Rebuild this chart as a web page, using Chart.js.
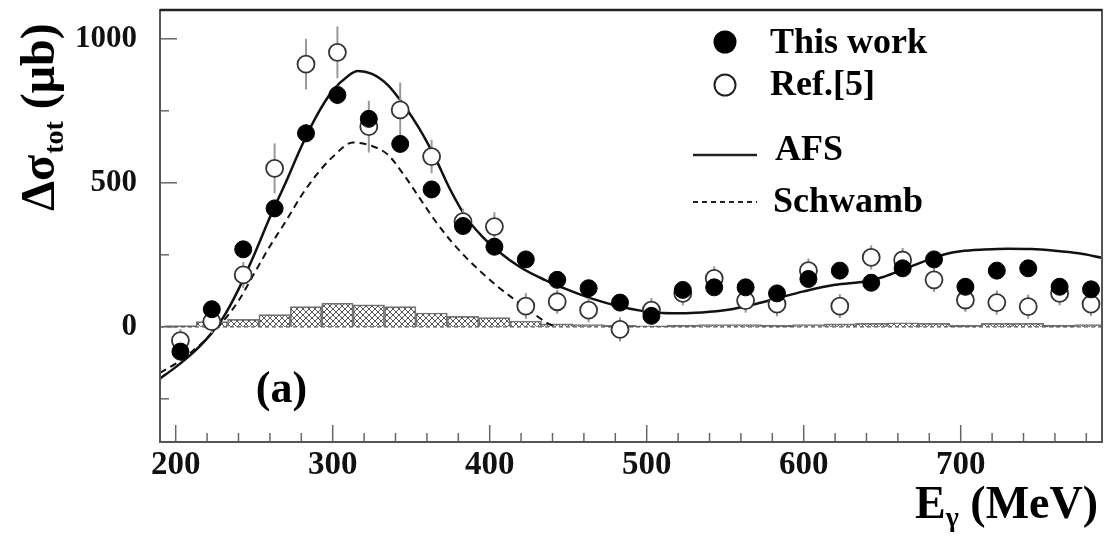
<!DOCTYPE html>
<html>
<head>
<meta charset="utf-8">
<script src="https://cdn.jsdelivr.net/npm/chart.js@4.4.0/dist/chart.umd.min.js"></script>
<style>
  html, body { margin: 0; padding: 0; background: #fff; }
  #wrap { width: 1116px; height: 542px; }
</style>
</head>
<body>
<div id="wrap"><canvas id="myChart" width="1116" height="542"></canvas></div>
<script>
// energies of the data bins (MeV)
const energias = [203, 223, 243, 263, 283, 303, 323, 343, 363, 383, 403, 423, 443, 463, 483,
                  503, 523, 543, 563, 583, 603, 623, 643, 663, 683, 703, 723, 743, 763, 783];
// This work
const esteTrabajo = [-86, 61, 269, 411, 672, 805, 722, 635, 477, 350, 278, 234, 163, 134, 84,
                     38, 128, 137, 137, 116, 166, 195, 153, 203, 234, 139, 195, 203, 139, 130];
const errEste = [30, 28, 28, 30, 32, 32, 30, 30, 28, 26, 25, 25, 24, 24, 24,
                 24, 24, 24, 24, 24, 24, 24, 24, 24, 24, 24, 24, 24, 24, 24];
// Ref.[5]
const ref5 = [-48, 18, 180, 550, 912, 953, 695, 753, 591, 365, 348, 72, 87, 58, -9,
              58, 116, 168, 91, 79, 195, 72, 241, 232, 163, 93, 84, 70, 116, 79];
const errRef5 = [40, 40, 45, 87, 88, 90, 90, 95, 58, 45, 50, 45, 42, 42, 42,
                 42, 42, 42, 42, 42, 42, 42, 42, 42, 42, 42, 42, 42, 42, 42];
// systematic error band
const sistematico = [4, 18, 26, 42, 70, 82, 76, 70, 48, 36, 32, 20, 10, 8, 5,
                     3, 6, 8, 8, 6, 8, 10, 12, 14, 12, 6, 12, 12, 6, 8];

// AFS curve
const afsE = [190, 200, 210, 220, 230, 240, 250, 260, 270, 280, 290, 300, 310, 316, 325, 335, 345,
              355, 365, 375, 385, 395, 405, 420, 435, 450, 465, 480, 495, 510, 525, 540, 555, 570,
              585, 600, 620, 640, 650, 660, 670, 680, 690, 700, 715, 730, 745, 760, 775, 790];
const afsV = [-180, -140, -95, -40, 30, 130, 250, 380, 500, 625, 735, 820, 872, 888, 878, 840, 772,
              690, 590, 475, 380, 315, 264, 205, 163, 128, 98, 75, 57, 48, 47, 52, 62, 80,
              102, 123, 146, 158, 172, 192, 213, 234, 252, 262, 268, 271, 270, 264, 255, 240];
// Schwamb curve
const schwambE = [190, 200, 210, 220, 230, 240, 250, 260, 270, 280, 290, 300, 313, 325, 335, 345,
                  355, 365, 375, 385, 395, 405, 415, 425, 437, 442];
const schwambV = [-160, -128, -88, -40, 18, 90, 185, 280, 365, 455, 530, 590, 640, 628, 598, 530,
                  450, 370, 300, 240, 188, 140, 98, 58, 12, 0];

// ticks
const xTicks = [200, 220, 240, 260, 280, 300, 320, 340, 360, 380, 400, 420, 440, 460, 480,
                500, 520, 540, 560, 580, 600, 620, 640, 660, 680, 700, 720, 740, 760, 780];
const xEtiquetas = [200, 300, 400, 500, 600, 700];
const yTicks = [-250, 0, 250, 500, 750, 1000];
const yEtiquetas = [0, 500, 1000];

const serif = 'Liberation Serif, Times New Roman, serif';

// cross hatch for the systematic band
function rayado() {
    const c = document.createElement('canvas');
    c.width = 6; c.height = 6;
    const g = c.getContext('2d');
    g.strokeStyle = '#555';
    g.lineWidth = 1;
    g.beginPath();
    g.moveTo(0, 0); g.lineTo(6, 6);
    g.moveTo(6, 0); g.lineTo(0, 6);
    g.stroke();
    return g.createPattern(c, 'repeat');
}

const pares = (xs, ys) => xs.map((x, i) => ({ x: x, y: ys[i] }));

// error bars, inner ticks, frame, legend and labels
const extras = {
    id: 'extras',
    beforeDatasetDraw(chart, args) {
        if (args.index !== 4) return;
        const ctx = chart.ctx, xs = chart.scales.x, ys = chart.scales.y;
        ctx.save();
        ctx.strokeStyle = '#999';
        ctx.lineWidth = 2;
        const barras = (vals, errs) => {
            vals.forEach((v, i) => {
                const px = xs.getPixelForValue(energias[i]);
                ctx.beginPath();
                ctx.moveTo(px, ys.getPixelForValue(v - errs[i]));
                ctx.lineTo(px, ys.getPixelForValue(v + errs[i]));
                ctx.stroke();
            });
        };
        barras(ref5, errRef5);
        barras(esteTrabajo, errEste);
        ctx.restore();
    },
    afterDraw(chart) {
        const ctx = chart.ctx, a = chart.chartArea, xs = chart.scales.x, ys = chart.scales.y;
        ctx.save();
        // inner ticks
        ctx.strokeStyle = '#666';
        ctx.lineWidth = 1.5;
        xTicks.forEach(t => {
            const px = xs.getPixelForValue(t);
            const l = xEtiquetas.includes(t) ? 17 : 9;
            ctx.beginPath(); ctx.moveTo(px, a.bottom); ctx.lineTo(px, a.bottom - l); ctx.stroke();
        });
        yTicks.forEach(t => {
            const py = ys.getPixelForValue(t);
            const l = yEtiquetas.includes(t) ? 17 : 9;
            ctx.beginPath(); ctx.moveTo(a.left, py); ctx.lineTo(a.left + l, py); ctx.stroke();
        });
        // frame
        ctx.strokeStyle = '#555';
        ctx.lineWidth = 2;
        ctx.strokeRect(a.left, a.top, a.right - a.left, a.bottom - a.top);
        ctx.strokeStyle = '#222';
        ctx.lineWidth = 2.5;
        ctx.beginPath(); ctx.moveTo(a.left, a.top); ctx.lineTo(a.right, a.top); ctx.stroke();

        // legend
        ctx.fillStyle = '#000';
        ctx.beginPath(); ctx.arc(725, 42, 11.5, 0, Math.PI * 2); ctx.fill();
        ctx.strokeStyle = '#222';
        ctx.lineWidth = 2;
        ctx.beginPath(); ctx.arc(725, 85, 10.5, 0, Math.PI * 2); ctx.stroke();
        ctx.lineWidth = 2.5;
        ctx.beginPath(); ctx.moveTo(693, 155); ctx.lineTo(757, 155); ctx.stroke();
        ctx.lineWidth = 2;
        ctx.setLineDash([5, 4]);
        ctx.beginPath(); ctx.moveTo(693, 202); ctx.lineTo(757, 202); ctx.stroke();
        ctx.setLineDash([]);
        ctx.font = 'bold 36px ' + serif;
        ctx.textBaseline = 'alphabetic';
        ctx.textAlign = 'left';
        ctx.fillText('This work', 770, 53);
        ctx.fillText('Ref.[5]', 770, 95);
        ctx.fillText('AFS', 775, 160);
        ctx.fillText('Schwamb', 773, 212);

        // panel label
        ctx.font = 'bold 44px ' + serif;
        ctx.fillText('(a)', xs.getPixelForValue(251), ys.getPixelForValue(-262));

        // y title
        ctx.save();
        ctx.translate(54, 211);
        ctx.rotate(-Math.PI / 2);
        ctx.font = 'bold 48px ' + serif;
        ctx.fillText('Δσ', 0, 0);
        let w = ctx.measureText('Δσ').width;
        ctx.font = 'bold 28px ' + serif;
        ctx.fillText('tot', w + 1, 9);
        w += ctx.measureText('tot').width + 1;
        ctx.font = 'bold 48px ' + serif;
        ctx.fillText(' (μb)', w, 0);
        ctx.restore();

        // x title
        ctx.font = 'bold 46px ' + serif;
        const tE = ctx.measureText('E').width;
        const tR = ctx.measureText(' (MeV)').width;
        ctx.font = 'bold 28px ' + serif;
        const tG = ctx.measureText('γ').width;
        let x0 = 1098 - tE - tG - tR;
        ctx.font = 'bold 46px ' + serif;
        ctx.fillText('E', x0, 518);
        ctx.font = 'bold 28px ' + serif;
        ctx.fillText('γ', x0 + tE, 526);
        ctx.font = 'bold 46px ' + serif;
        ctx.fillText(' (MeV)', x0 + tE + tG, 518);
        ctx.restore();
    }
};

const ctx = document.getElementById('myChart').getContext('2d');
const myChart = new Chart(ctx, {
    type: 'scatter',
    data: {
        datasets: [
            {
                type: 'bar',
                label: 'syst',
                data: pares(energias, sistematico),
                backgroundColor: rayado(),
                borderColor: '#777',
                borderWidth: 1,
                barPercentage: 1,
                categoryPercentage: 1,
                order: 6
            },
            {
                type: 'line',
                label: 'zero',
                data: [{ x: 190, y: 0 }, { x: 790, y: 0 }],
                borderColor: '#555',
                borderWidth: 1.3,
                borderDash: [4, 3],
                pointRadius: 0,
                order: 5
            },
            {
                type: 'line',
                label: 'Schwamb',
                data: pares(schwambE, schwambV),
                borderColor: '#111',
                borderWidth: 2,
                borderDash: [7, 5],
                pointRadius: 0,
                cubicInterpolationMode: 'monotone',
                order: 4
            },
            {
                type: 'line',
                label: 'AFS',
                data: pares(afsE, afsV),
                borderColor: '#111',
                borderWidth: 2.5,
                pointRadius: 0,
                cubicInterpolationMode: 'monotone',
                order: 3
            },
            {
                label: 'Ref.[5]',
                data: pares(energias, ref5),
                pointRadius: 8.5,
                pointBackgroundColor: '#fff',
                pointBorderColor: '#333',
                pointBorderWidth: 1.8,
                order: 2
            },
            {
                label: 'This work',
                data: pares(energias, esteTrabajo),
                pointRadius: 8.5,
                pointBackgroundColor: '#000',
                pointBorderColor: '#000',
                pointBorderWidth: 1,
                order: 1
            }
        ]
    },
    options: {
        responsive: false,
        animation: false,
        layout: { autoPadding: false, padding: { top: 10, right: 14, left: 0, bottom: 0 } },
        scales: {
            x: {
                type: 'linear',
                min: 190,
                max: 790,
                offset: false,
                grid: { display: false, drawTicks: false },
                border: { display: false },
                afterBuildTicks: s => { s.ticks = xTicks.map(v => ({ value: v })); },
                afterFit: s => {
                    s.height = 100;
                    s.paddingLeft = 0; s.paddingRight = 0; s.paddingTop = 0; s.paddingBottom = 0;
                },
                ticks: {
                    autoSkip: false,
                    maxRotation: 0,
                    minRotation: 0,
                    padding: 4,
                    color: '#111',
                    font: { family: serif, size: 33, weight: 'bold' },
                    callback: v => xEtiquetas.includes(v) ? String(v) : ''
                }
            },
            y: {
                min: -400,
                max: 1100,
                grid: { display: false, drawTicks: false },
                border: { display: false },
                afterBuildTicks: s => { s.ticks = yTicks.map(v => ({ value: v })); },
                afterFit: s => {
                    s.width = 160;
                    s.paddingLeft = 0; s.paddingRight = 0; s.paddingTop = 0; s.paddingBottom = 0;
                },
                ticks: {
                    autoSkip: false,
                    padding: 23,
                    color: '#111',
                    font: { family: serif, size: 31, weight: 'bold' },
                    callback: v => yEtiquetas.includes(v) ? String(v) : ''
                }
            }
        },
        plugins: {
            legend: { display: false },
            tooltip: { enabled: false }
        }
    },
    plugins: [extras]
});
</script>
</body>
</html>
